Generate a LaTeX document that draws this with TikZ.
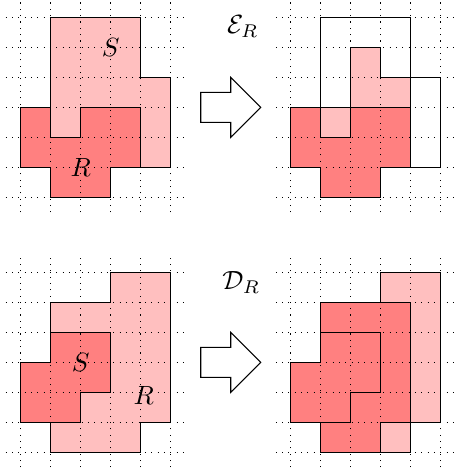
\documentclass[tikz,border=0pt]{standalone}
\usepackage{amsmath,amssymb}
\usetikzlibrary{calc}

\begin{document}
\begin{tikzpicture}[x=0.4cm,y=0.4cm,
  gridline/.style={dotted,step=1},
  lightset/.style={fill=red!25,draw=black},
  darkset/.style={fill=red!50,draw=black},
  bigarrow/.style={draw=black,fill=white}]
  \useasboundingbox (-0.69,-9.12) rectangle (14.44,6.577);

  % erosion: S, R and result
  \draw[lightset] (1,6)--(4,6)--(4,4)--(5,4)--(5,1)--(4,1)--(4,3)--(2,3)--(2,2)--(1,2)--cycle;
  \draw[darkset] (0,3)--(1,3)--(1,2)--(2,2)--(2,3)--(4,3)--(4,1)--(3,1)--(3,0)--(1,0)--(1,1)--(0,1)--cycle;
  \node (sA) at (3,5) {$S$};
  \node (rA) at (2,1) {$R$};
  \draw[gridline] (-0.5,-0.5) grid (5.5,6.5);

  \draw[bigarrow] (6,2.5)--(7,2.5)--(7,2)--(8,3)--(7,4)--(7,3.5)--(6,3.5)--cycle;
  \node (ero) at (7.4,5.69) {$\mathcal{E}_R$};

  \begin{scope}[shift={(9,0)}]
    \draw (1,6)--(4,6)--(4,4)--(5,4)--(5,1)--(4,1)--(4,3)--(2,3)--(2,2)--(1,2)--cycle;
    \draw[lightset] (2,5)--(3,5)--(3,4)--(4,4)--(4,3)--(2,3)--cycle;
    \draw[lightset] (1,2) rectangle (2,3);
    \draw[darkset] (0,3)--(1,3)--(1,2)--(2,2)--(2,3)--(4,3)--(4,1)--(3,1)--(3,0)--(1,0)--(1,1)--(0,1)--cycle;
    \draw[gridline] (-0.5,-0.5) grid (5.5,6.5);
  \end{scope}

  % dilation
  \begin{scope}[shift={(0,-8.5)}]
    \draw[lightset] (3,6)--(5,6)--(5,1)--(4,1)--(4,0)--(1,0)--(1,1)--(2,1)--(2,2)--(3,2)--(3,4)--(1,4)--(1,5)--(3,5)--cycle;
    \draw[darkset] (1,4)--(3,4)--(3,2)--(2,2)--(2,1)--(0,1)--(0,3)--(1,3)--cycle;
    \node (sB) at (2,3) {$S$};
    \node (rB) at (4.1,1.9) {$R$};
    \draw[gridline] (-0.5,-0.5) grid (5.5,6.5);

    \draw[bigarrow] (6,2.5)--(7,2.5)--(7,2)--(8,3)--(7,4)--(7,3.5)--(6,3.5)--cycle;
    \node (dil) at (7.35,5.67) {$\mathcal{D}_R$};
  \end{scope}

  \begin{scope}[shift={(9,-8.5)}]
    \draw[lightset] (3,6)--(5,6)--(5,1)--(4,1)--(4,0)--(1,0)--(1,1)--(2,1)--(2,2)--(3,2)--(3,4)--(1,4)--(1,5)--(3,5)--cycle;
    \draw[darkset] (1,5)--(4,5)--(4,1)--(3,1)--(3,0)--(1,0)--(1,1)--(0,1)--(0,3)--(1,3)--cycle;
    \draw (1,4)--(3,4)--(3,2)--(2,2)--(2,1)--(0,1)--(0,3)--(1,3)--cycle;
    \draw[gridline] (-0.5,-0.5) grid (5.5,6.5);
  \end{scope}
\end{tikzpicture}
\end{document}
